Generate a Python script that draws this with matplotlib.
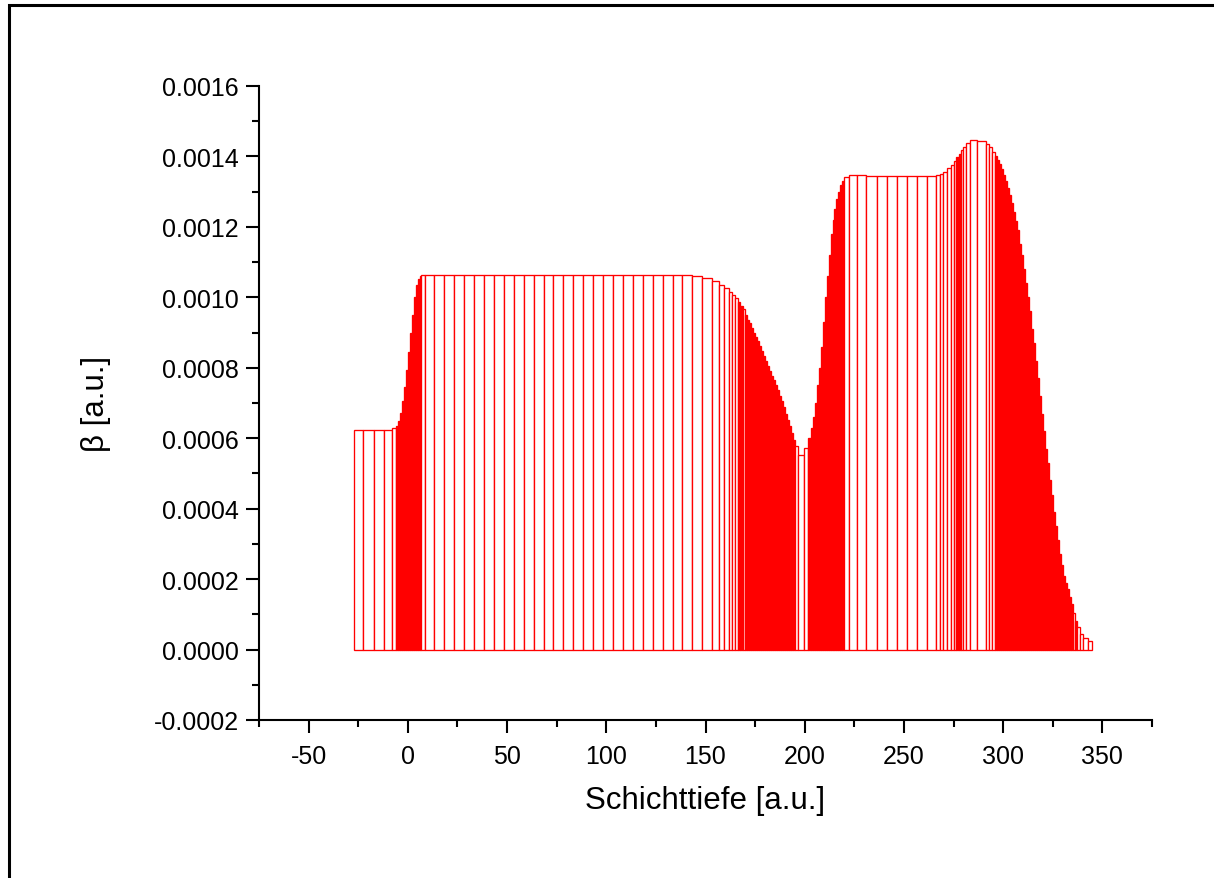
import matplotlib
matplotlib.use("Agg")
import matplotlib.pyplot as plt
import numpy as np
from matplotlib.patches import Rectangle
from matplotlib.ticker import MultipleLocator, FormatStrFormatter

plt.rcParams['font.family'] = ['Liberation Sans', 'DejaVu Sans']
plt.rcParams['axes.unicode_minus'] = False

# Schichtmodell: linke Kante jeder Teilschicht und ihr beta-Wert
depth_left = [
    -27.2, -22.4, -17.3, -12.1, -7.9,
    -5.9, -5.0, -4.0, -3.0, -2.0, -1.0, 0.0, 1.0, 2.0, 3.0, 4.0, 5.0, 6.0,
    6.4, 8.9, 13.4, 18.4, 23.4, 28.4, 33.4, 38.4, 43.4, 48.4, 53.4, 58.4,
    63.4, 68.4, 73.4, 78.4, 83.4, 88.4, 93.4, 98.4, 103.4, 108.4, 113.4,
    118.4, 123.4, 128.4, 133.4, 138.4, 143.4, 148.4,
    153.3, 157.0, 159.5, 161.7, 163.4, 165.0, 166.4, 167.5,
    168.7, 170.0, 171.0, 172.0, 173.0, 174.0, 175.0, 176.0, 177.0, 178.0,
    179.0, 180.0, 181.0, 182.0, 183.0, 184.0, 185.0, 186.0, 187.0, 188.0,
    189.0, 190.0, 191.0, 192.0, 193.0, 194.0, 195.0,
    196.4, 199.4,
    201.9, 203.0, 204.0, 205.0, 206.0, 207.0, 208.0, 209.0, 210.0, 211.0,
    212.0, 213.0, 214.0, 215.0, 216.0, 217.0, 218.0, 219.0,
    219.9, 222.1, 226.3, 231.0, 236.4, 241.4, 246.5, 251.5, 256.5, 261.6,
    266.2, 268.3, 269.9, 271.9, 273.7, 275.0, 276.3, 277.5, 278.7, 280.0,
    281.3, 283.3, 287.0, 291.3, 292.9, 294.6,
    296.0, 297.0, 298.0, 299.0, 300.0, 301.0, 302.0, 303.0, 304.0, 305.0,
    306.0, 307.0, 308.0, 309.0, 310.0, 311.0, 312.0, 313.0, 314.0, 315.0,
    316.0, 317.0, 318.0, 319.0, 320.0, 321.0, 322.0, 323.0, 324.0, 325.0,
    326.0, 327.0, 328.0, 329.0, 330.0, 331.0, 332.1, 333.0, 334.0, 335.0,
    336.3, 337.4, 338.8, 340.4, 342.6,
]
depth_end = 344.6

beta = [
    0.000624, 0.000624, 0.000624, 0.000624, 0.000628,
    0.000635, 0.000650, 0.000672, 0.000705, 0.000745, 0.000795, 0.000845,
    0.000900, 0.000950, 0.001000, 0.001035, 0.001052, 0.001060,
    0.001063, 0.001064, 0.001064, 0.001064, 0.001064, 0.001064, 0.001064,
    0.001064, 0.001064, 0.001064, 0.001064, 0.001064, 0.001064, 0.001064,
    0.001064, 0.001064, 0.001064, 0.001064, 0.001064, 0.001064, 0.001064,
    0.001064, 0.001064, 0.001064, 0.001064, 0.001064, 0.001064,
    0.001062, 0.001060, 0.001055,
    0.001046, 0.001036, 0.001026, 0.001016, 0.001007, 0.000997, 0.000988,
    0.000976,
    0.000966, 0.000950, 0.000937, 0.000926, 0.000914, 0.000900, 0.000888,
    0.000875, 0.000861, 0.000848, 0.000834, 0.000820, 0.000806, 0.000792,
    0.000778, 0.000764, 0.000750, 0.000736, 0.000721, 0.000705, 0.000688,
    0.000670, 0.000652, 0.000634, 0.000615, 0.000596, 0.000578,
    0.000553, 0.000572,
    0.000600, 0.000630, 0.000660, 0.000700, 0.000750, 0.000800, 0.000860,
    0.000930, 0.001000, 0.001060, 0.001120, 0.001180, 0.001220, 0.001250,
    0.001280, 0.001300, 0.001320, 0.001330,
    0.001341, 0.001348, 0.001347, 0.001344, 0.001344, 0.001344, 0.001344,
    0.001344, 0.001344, 0.001344,
    0.001348, 0.001350, 0.001357, 0.001367, 0.001377, 0.001387, 0.001398,
    0.001407, 0.001417, 0.001426, 0.001438, 0.001447, 0.001445, 0.001436,
    0.001426, 0.001414,
    0.001400, 0.001390, 0.001378, 0.001364, 0.001348, 0.001330, 0.001311,
    0.001290, 0.001268, 0.001243, 0.001217, 0.001190, 0.001152, 0.001120,
    0.001080, 0.001040, 0.001000, 0.000960, 0.000910, 0.000870, 0.000820,
    0.000770, 0.000720, 0.000670, 0.000620, 0.000570, 0.000530, 0.000480,
    0.000440, 0.000390, 0.000350, 0.000310, 0.000270, 0.000240, 0.000210,
    0.000190, 0.000172, 0.000150, 0.000130, 0.000105,
    0.000080, 0.000065, 0.000044, 0.000032, 0.000024,
]

x_ticks = [-50, 0, 50, 100, 150, 200, 250, 300, 350]

edges = np.array(depth_left + [depth_end])
widths = np.diff(edges)
# duenne Teilschichten erscheinen als volle Flaeche
faces = ['red' if w < 1.2 else 'white' for w in widths]

fig = plt.figure(figsize=(12.14, 8.79), dpi=100)
ax = fig.add_axes([259 / 1214, 1 - 721 / 879, (1152 - 259) / 1214, (721 - 87) / 879])

ax.bar(edges[:-1], beta, width=widths, align='edge', color=faces,
       edgecolor='red', linewidth=0.95)

ax.set_xlim(-75, 375)
ax.set_ylim(-0.0002, 0.0016)
ax.set_xticks(x_ticks)
ax.xaxis.set_minor_locator(MultipleLocator(25))
ax.yaxis.set_major_locator(MultipleLocator(0.0002))
ax.yaxis.set_minor_locator(MultipleLocator(0.0001))
ax.yaxis.set_major_formatter(FormatStrFormatter('%.4f'))

for side in ['top', 'right']:
    ax.spines[side].set_visible(False)
for side in ['left', 'bottom']:
    ax.spines[side].set_linewidth(1.5)
ax.tick_params(which='major', direction='out', length=9.5, width=1.5,
               labelsize=18, pad=5)
ax.tick_params(which='minor', direction='out', length=4.8, width=1.5)
ax.tick_params(axis='x', which='major', pad=8)

ax.set_xlabel('Schichttiefe [a.u.]', fontsize=22.5, labelpad=12)
ax.set_ylabel('β [a.u.]', fontsize=22.5, labelpad=31)

# Rahmen der Seite
fig.patches.append(Rectangle((8.7 / 1214, -0.05), 1.1, 1 - 5.7 / 879 + 0.05,
                             transform=fig.transFigure, fill=False,
                             edgecolor='black', linewidth=2.2))

fig.savefig('out.png', dpi=100)
